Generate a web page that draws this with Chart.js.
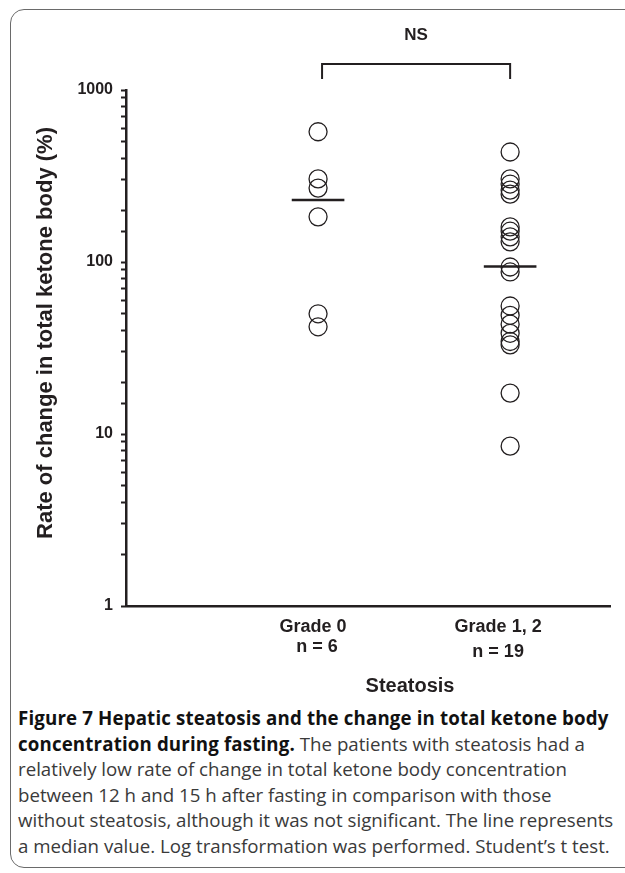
<!DOCTYPE html>
<html lang="en">
<head>
<meta charset="UTF-8">
<title>Figure 7 - Hepatic steatosis and ketone body change</title>
<script src="https://cdn.jsdelivr.net/npm/chart.js@4.4.1/dist/chart.umd.min.js"></script>
<style>
  html, body { margin: 0; padding: 0; background: #fff; }
  body { width: 625px; height: 873px; position: relative; overflow: hidden; }
  .frame {
    position: absolute; left: 10px; top: 9px; width: 660px; height: 857px;
    border: 1.5px solid #6a6a6a; border-radius: 14px;
  }
  #chart { position: absolute; left: 0; top: 0; }
  .caption {
    position: absolute; left: 18px; top: 705px;
    font-family: 'Open Sans', sans-serif; font-size: 18.7px; line-height: 25.5px;
    color: #3a3a3a; white-space: nowrap;
  }
  .caption b { color: #111; font-weight: 700; letter-spacing: 0.15px; }
</style>
</head>
<body>
  <div class="frame"></div>
  <canvas id="chart" width="625" height="700"></canvas>
  <div class="caption">
    <b>Figure 7 Hepatic steatosis and the change in total ketone body</b><br>
    <b>concentration during fasting.</b> The patients with steatosis had a<br>
    relatively low rate of change in total ketone body concentration<br>
    between 12 h and 15 h after fasting in comparison with those<br>
    without steatosis, although it was not significant. The line represents<br>
    a median value. Log transformation was performed. Student’s t test.
  </div>

<script>
  // values (%)
  const groups = ['Grade 0', 'Grade 1, 2'];
  const groupN = ['n = 6', 'n = 19'];
  const grade0 = [572, 304, 269, 183, 50, 42];
  const grade12 = [436, 304, 284, 262, 248, 160, 151, 140, 131, 93.5, 87.5,
                   55.5, 49, 43.5, 38.5, 34.5, 33, 17.3, 8.5];
  const medians = [229, 94];
  const yTickLabels = [1, 10, 100, 1000];
  const yTitle = 'Rate of change in total ketone body (%)';
  const xTitle = 'Steatosis';
  const sigText = 'NS';

  const ink = '#231f20';
  const axisFont = "'Liberation Sans', Arial, sans-serif";
  const halfMedian = 0.137;

  function pts(vals, x) {
    return vals.map(v => ({ x: x, y: v }));
  }
  function medianLine(v, x) {
    return [{ x: x - halfMedian, y: v }, { x: x + halfMedian, y: v }];
  }
  function isDecade(v) {
    const l = Math.log10(v);
    return Math.abs(l - Math.round(l)) < 1e-6;
  }

  // extra text + significance bracket
  const decor = {
    id: 'decor',
    afterDraw(chart) {
      const ctx = chart.ctx;
      const xs = chart.scales.x;
      ctx.save();
      ctx.fillStyle = ink;
      ctx.strokeStyle = ink;

      // y title
      ctx.save();
      ctx.translate(46, 333);
      ctx.rotate(-Math.PI / 2);
      ctx.font = 'bold 22px ' + axisFont;
      ctx.textAlign = 'center';
      ctx.textBaseline = 'middle';
      ctx.fillText(yTitle, 0, 0);
      ctx.restore();

      // category labels
      ctx.font = 'bold 18px ' + axisFont;
      ctx.textAlign = 'center';
      ctx.textBaseline = 'middle';
      const shift = [-5, -12];
      const nShift = [-1, -12];
      const nY = [647, 652];
      groups.forEach((g, i) => {
        const px = xs.getPixelForValue(i + 1);
        ctx.fillText(g, px + shift[i], 627);
        ctx.fillText(groupN[i], px + nShift[i], nY[i]);
      });

      // x title
      ctx.font = 'bold 20px ' + axisFont;
      ctx.fillText(xTitle, 410, 686);

      // bracket
      const x1 = xs.getPixelForValue(1) + 4;
      const x2 = xs.getPixelForValue(2);
      ctx.lineWidth = 2;
      ctx.beginPath();
      ctx.moveTo(x1, 79);
      ctx.lineTo(x1, 64);
      ctx.lineTo(x2, 64);
      ctx.lineTo(x2, 79);
      ctx.stroke();
      ctx.font = 'bold 17px ' + axisFont;
      ctx.fillText(sigText, (x1 + x2) / 2, 35);
      ctx.restore();
    }
  };

  new Chart(document.getElementById('chart'), {
    type: 'scatter',
    data: {
      datasets: [
        {
          data: pts(grade0, 1),
          pointRadius: 9, pointBorderWidth: 1.3,
          pointBorderColor: ink, pointBackgroundColor: 'rgba(0,0,0,0)'
        },
        {
          data: pts(grade12, 2),
          pointRadius: 9, pointBorderWidth: 1.3,
          pointBorderColor: ink, pointBackgroundColor: 'rgba(0,0,0,0)'
        },
        {
          data: medianLine(medians[0], 1), showLine: true,
          borderColor: ink, borderWidth: 2.5, pointRadius: 0
        },
        {
          data: medianLine(medians[1], 2), showLine: true,
          borderColor: ink, borderWidth: 2.5, pointRadius: 0
        }
      ]
    },
    options: {
      responsive: false,
      animation: false,
      devicePixelRatio: 1,
      layout: { padding: { left: 0, top: 90, right: 15, bottom: 0 } },
      plugins: { legend: { display: false }, tooltip: { enabled: false } },
      scales: {
        x: {
          type: 'linear', min: 0, max: 2.52,
          ticks: { display: false },
          grid: { display: false },
          border: { display: true, color: ink, width: 2.5 },
          afterFit: s => { s.height = 94; }
        },
        y: {
          type: 'logarithmic', min: 1, max: 1000,
          ticks: {
            autoSkip: false,
            padding: 8,
            color: ink,
            font: { family: axisFont, size: 16, weight: 'bold' },
            callback: v => (isDecade(v) && yTickLabels.includes(Math.round(v))) ? String(Math.round(v)) : ''
          },
          grid: {
            display: true, drawOnChartArea: false, drawTicks: true,
            tickLength: 5, tickWidth: 2, tickColor: ink
          },
          border: { display: true, color: ink, width: 2.5 },
          afterFit: s => { s.width = 126; }
        }
      }
    },
    plugins: [decor]
  });
</script>
</body>
</html>
